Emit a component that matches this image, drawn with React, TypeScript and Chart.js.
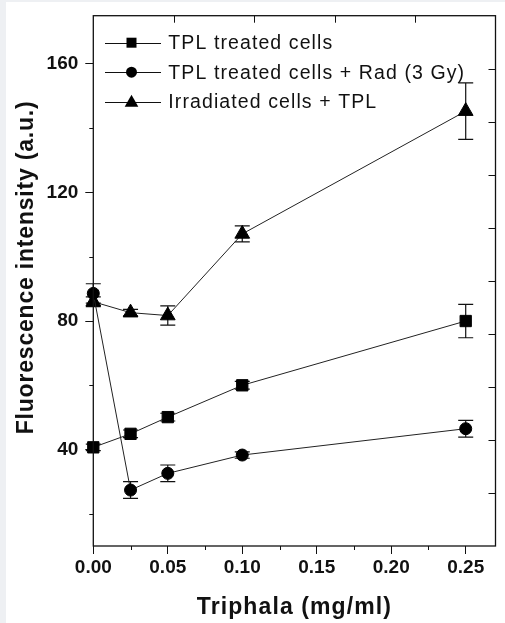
import React, { useEffect, useRef } from 'react';
import { Chart, registerables } from 'chart.js';

Chart.register(...registerables);

// ---- data ----
const X_VALUES = [0, 0.025, 0.05, 0.1, 0.25];
const TPL_VALUES = [40.7, 44.9, 50.1, 60.0, 80.0];
const TPL_ERRORS = [1.0, 1.2, 1.2, 1.2, 5.2];
const RAD_VALUES = [88.6, 27.4, 32.6, 38.3, 46.5];
const RAD_ERRORS = [3.0, 2.6, 2.6, 1.0, 2.6];
const IRR_VALUES = [86.0, 82.6, 81.7, 107.1, 145.3];
const IRR_ERRORS = [1.5, 1.0, 3.0, 2.5, 8.8];
const SERIES_LABELS = ['TPL treated cells', 'TPL treated cells + Rad (3 Gy)', 'Irradiated cells + TPL'];
const SERIES_STYLES = ['rect', 'circle', 'triangle'];

const X_TICKS = [0, 0.05, 0.1, 0.15, 0.2, 0.25];
const X_MINOR = [0.025, 0.075, 0.125, 0.175, 0.225];
const Y_TICKS = [40, 80, 120, 160];
const Y_MINOR = [20, 60, 100, 140];
const TOP_TICKS = [1, 2, 3, 4];
const RIGHT_TICKS = [1, 2, 3, 4, 5, 6, 7, 8, 9];

const X_TITLE = 'Triphala (mg/ml)';
const Y_TITLE = 'Fluorescence intensity (a.u.)';

const FONT = 'Liberation Sans, Arial, sans-serif';
const INK = '#111';

function drawMarker(ctx: CanvasRenderingContext2D, style: string, x: number, y: number) {
  ctx.beginPath();
  if (style === 'rect') {
    ctx.rect(x - 5, y - 5, 10, 10);
  } else if (style === 'circle') {
    ctx.arc(x, y, 5.5, 0, Math.PI * 2);
  } else {
    ctx.moveTo(x, y - 7);
    ctx.lineTo(x + 6.8, y + 5);
    ctx.lineTo(x - 6.8, y + 5);
    ctx.closePath();
  }
  ctx.fill();
}

const decor = {
  id: 'decor',
  beforeUpdate(chart: any) {
    chart.ctx.letterSpacing = '0px';
  },
  beforeDatasetsDraw(chart: any) {
    const ctx = chart.ctx;
    const xs = chart.scales.x;
    const ys = chart.scales.y;
    ctx.save();
    ctx.strokeStyle = INK;
    ctx.lineWidth = 1.2;
    chart.data.datasets.forEach((ds: any) => {
      ds.data.forEach((p: any, j: number) => {
        const e = ds.errors[j];
        const px = xs.getPixelForValue(p.x);
        const yt = ys.getPixelForValue(p.y + e);
        const yb = ys.getPixelForValue(p.y - e);
        ctx.beginPath();
        ctx.moveTo(px, yt);
        ctx.lineTo(px, yb);
        ctx.moveTo(px - 7.5, yt);
        ctx.lineTo(px + 7.5, yt);
        ctx.moveTo(px - 7.5, yb);
        ctx.lineTo(px + 7.5, yb);
        ctx.stroke();
      });
    });
    ctx.restore();
  },
  afterDraw(chart: any) {
    const ctx = chart.ctx;
    const { left, right, top, bottom } = chart.chartArea;
    const xs = chart.scales.x;
    const ys = chart.scales.y;
    const x2 = chart.scales.x2;
    const y2 = chart.scales.y2;
    ctx.save();
    // frame
    ctx.strokeStyle = INK;
    ctx.lineWidth = 1.3;
    ctx.strokeRect(left, top, right - left, bottom - top);
    // minor ticks
    ctx.lineWidth = 1;
    ctx.beginPath();
    X_MINOR.forEach((v) => {
      const px = Math.round(xs.getPixelForValue(v)) + 0.5;
      ctx.moveTo(px, bottom);
      ctx.lineTo(px, bottom + 4);
    });
    Y_MINOR.forEach((v) => {
      const py = Math.round(ys.getPixelForValue(v)) + 0.5;
      ctx.moveTo(left, py);
      ctx.lineTo(left - 4, py);
    });
    // top axis ticks (inside)
    TOP_TICKS.forEach((v) => {
      const px = Math.round(x2.getPixelForValue(v)) + 0.5;
      ctx.moveTo(px, top);
      ctx.lineTo(px, top + 7);
    });
    // right axis ticks (inside)
    RIGHT_TICKS.forEach((v) => {
      const py = Math.round(y2.getPixelForValue(v)) + 0.5;
      ctx.moveTo(right, py);
      ctx.lineTo(right - 7, py);
    });
    ctx.stroke();

    // axis titles
    ctx.fillStyle = INK;
    ctx.font = `bold 23px ${FONT}`;
    (ctx as any).letterSpacing = '1.1px';
    ctx.textAlign = 'center';
    ctx.textBaseline = 'alphabetic';
    ctx.fillText(X_TITLE, (left + right) / 2, 611.5);
    ctx.save();
    ctx.translate(27.3, 265.4);
    ctx.rotate(-Math.PI / 2);
    (ctx as any).letterSpacing = '0.8px';
    ctx.fillText(Y_TITLE, 0, 0);
    ctx.restore();

    // legend
    ctx.font = `19.5px ${FONT}`;
    (ctx as any).letterSpacing = '1.1px';
    ctx.textAlign = 'left';
    SERIES_LABELS.forEach((label, i) => {
      const base = 47.3 + i * 29.5;
      const cy = base - 6.6;
      ctx.strokeStyle = INK;
      ctx.lineWidth = 1;
      ctx.beginPath();
      ctx.moveTo(99, Math.round(cy) + 0.5);
      ctx.lineTo(155, Math.round(cy) + 0.5);
      ctx.stroke();
      ctx.fillStyle = '#000';
      drawMarker(ctx, SERIES_STYLES[i], 125.5, cy);
      ctx.fillStyle = INK;
      ctx.fillText(label, 162.3, base);
    });
    ctx.restore();
  },
};

export default function App() {
  const ref = useRef<HTMLCanvasElement | null>(null);

  useEffect(() => {
    const canvas = ref.current;
    if (!canvas) return;
    const series = [TPL_VALUES, RAD_VALUES, IRR_VALUES];
    const errs = [TPL_ERRORS, RAD_ERRORS, IRR_ERRORS];
    const radii = [8, 6, 8.5];
    const datasets = series.map((vals, i) => ({
      label: SERIES_LABELS[i],
      data: X_VALUES.map((x, j) => ({ x, y: vals[j] })),
      errors: errs[i],
      xAxisID: 'x',
      yAxisID: 'y',
      borderColor: '#222',
      borderWidth: 1,
      backgroundColor: '#000',
      pointStyle: SERIES_STYLES[i],
      pointRadius: radii[i],
      pointBackgroundColor: '#000',
      pointBorderColor: '#000',
      pointBorderWidth: 1,
      tension: 0,
      clip: false,
      fill: false,
    }));

    const tickFont = { family: FONT, size: 19, weight: 'bold' as const };
    const noPad = (scale: any) => {
      scale.paddingTop = 0;
      scale.paddingBottom = 0;
      scale.paddingLeft = 0;
      scale.paddingRight = 0;
    };

    const chart = new Chart(canvas, {
      type: 'line',
      data: { datasets },
      options: {
        animation: false,
        responsive: false,
        devicePixelRatio: 1,
        layout: { padding: { top: 13.7, right: 6, left: 0, bottom: 0 } },
        plugins: {
          legend: { display: false },
          tooltip: { enabled: false },
        },
        scales: {
          x: {
            type: 'linear',
            position: 'bottom',
            min: 0,
            max: 0.27,
            afterBuildTicks: (scale: any) => {
              scale.ticks = X_TICKS.map((value) => ({ value }));
            },
            afterFit: (scale: any) => {
              scale.height = 77;
              noPad(scale);
            },
            ticks: {
              font: tickFont,
              color: INK,
              padding: 2.5,
              maxRotation: 0,
              autoSkip: false,
              callback: (v: any) => Number(v).toFixed(2),
            },
            grid: {
              drawOnChartArea: false,
              drawTicks: true,
              tickLength: 8,
              tickColor: INK,
              tickWidth: 1,
            },
            border: { display: false },
          },
          y: {
            type: 'linear',
            position: 'left',
            min: 10,
            max: 175,
            afterBuildTicks: (scale: any) => {
              scale.ticks = Y_TICKS.map((value) => ({ value }));
            },
            afterFit: (scale: any) => {
              scale.width = 87.3;
              noPad(scale);
            },
            ticks: {
              font: tickFont,
              color: INK,
              padding: 7,
              autoSkip: false,
            },
            grid: {
              drawOnChartArea: false,
              drawTicks: true,
              tickLength: 8,
              tickColor: INK,
              tickWidth: 1,
            },
            border: { display: false },
          },
          x2: {
            type: 'linear',
            position: 'top',
            min: 0,
            max: 5,
            display: false,
            afterFit: noPad,
          },
          y2: {
            type: 'linear',
            position: 'right',
            min: 0,
            max: 10,
            display: false,
            afterFit: noPad,
          },
        },
      },
      plugins: [decor],
    } as any);

    return () => chart.destroy();
  }, []);

  return (
    <div
      style={{
        position: 'absolute',
        left: 0,
        top: 0,
        width: 505,
        height: 623,
        background: '#eef0f3',
        overflow: 'hidden',
      }}
    >
      <canvas
        ref={ref}
        width={499}
        height={621}
        style={{ position: 'absolute', left: 6, top: 2, width: 499, height: 621, background: '#fff' }}
      />
    </div>
  );
}
